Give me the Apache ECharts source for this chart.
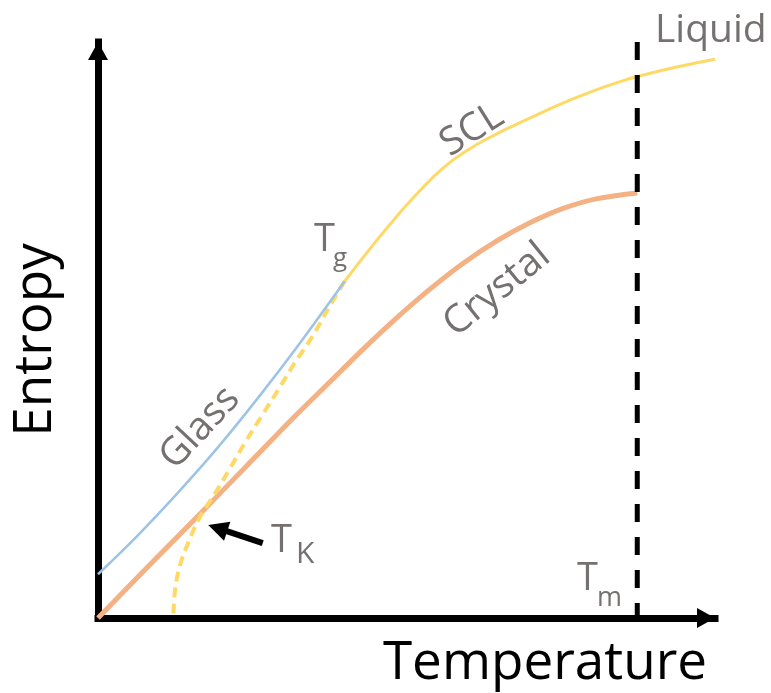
<!DOCTYPE html>
<html>
<head>
<meta charset="utf-8">
<script src="https://cdn.jsdelivr.net/npm/echarts@6/dist/echarts.min.js"></script>
<style>
  html, body { margin: 0; padding: 0; background: #ffffff; }
  #chart { width: 771px; height: 693px; }
</style>
</head>
<body>
<div id="chart"></div>
<script>
// Entropy vs temperature for glass, supercooled liquid (SCL) and crystal.
// Arbitrary units: temperature 0..100, entropy 0..100.

const glassT = [0, 6.5, 13, 19.5, 26, 32.5, 40.0];
const glassS = [7.6, 14.4, 21.8, 29.7, 38.3, 47.4, 58.5];

const sclT = [40, 44, 48, 52, 56, 60, 64, 68, 72, 76, 80, 84, 87.4, 94, 100];
const sclS = [58.5, 64.0, 69.2, 74.0, 78.2, 81.3, 83.7, 85.8, 87.8, 89.7, 91.4, 92.9, 94.0, 95.7, 97.0];

const crystalT = [0, 8, 16, 24, 32, 37.6, 42.9, 48.5, 53.8, 59.2, 64.7, 70.0, 75.4, 80.9, 87.4];
const crystalS = [0, 8.8, 17.5, 26.3, 35.1, 41.0, 46.6, 52.2, 57.1, 61.6, 65.5, 68.6, 71.1, 72.8, 73.8];

// extrapolated SCL entropy below Tg, down towards the Kauzmann point
const extrapT = [40.0, 37.6, 34.7, 31.9, 29.2, 26.6, 23.8, 21.4, 19.0, 16.5, 14.6, 13.3, 12.5, 12.2];
const extrapS = [58.5, 54.2, 48.8, 44.3, 39.6, 35.2, 30.4, 26.0, 21.7, 17.5, 13.0, 9.2, 4.9, 0.2];

const meltT = 87.4;          // Tm
const entropyMax = 100;
const kauzmannArrowFrom = [26.7, 13.0];
const kauzmannArrowTo = [19.4, 15.6];

const zip = (xs, ys) => xs.map((x, i) => [x, ys[i]]);

const GREY = '#767171';
const FONT = '"Open Sans", "Noto Sans", sans-serif';
const deg = d => d * Math.PI / 180;

const chart = echarts.init(document.getElementById('chart'), null, { renderer: 'canvas' });

function txt(text, x, y, size, opts) {
  opts = opts || {};
  return {
    type: 'text',
    x: x, y: y,
    rotation: opts.rotation || 0,
    z: 100,
    silent: true,
    style: {
      text: text,
      font: size + 'px ' + FONT,
      fill: opts.color || GREY,
      align: opts.align || 'left',
      verticalAlign: 'middle'
    }
  };
}

const axisCommon = {
  type: 'value',
  min: 0,
  max: 100,
  splitLine: { show: false },
  axisTick: { show: false },
  axisLabel: { show: false },
  axisLine: {
    show: true,
    symbol: ['none', 'triangle'],
    symbolSize: [20, 18],
    symbolOffset: [0, -9],
    lineStyle: { color: '#000000', width: 7, cap: 'square' }
  }
};

chart.setOption({
  animation: false,
  backgroundColor: '#ffffff',
  grid: { left: 98, top: 42, width: 617, height: 576 },
  xAxis: Object.assign({}, axisCommon),
  yAxis: Object.assign({}, axisCommon),
  series: [
    {
      name: 'Crystal',
      type: 'line',
      data: zip(crystalT, crystalS),
      smooth: 0.4,
      showSymbol: false,
      clip: false,
      lineStyle: { color: '#F4B183', width: 5 },
      z: 2
    },
    {
      name: 'Extrapolated SCL',
      type: 'line',
      data: zip(extrapT, extrapS),
      smooth: 0.4,
      showSymbol: false,
      clip: false,
      lineStyle: { color: '#FFD966', width: 4, type: [10, 6] },
      z: 3
    },
    {
      name: 'Glass',
      type: 'line',
      data: zip(glassT, glassS),
      smooth: 0.4,
      showSymbol: false,
      clip: false,
      lineStyle: { color: '#9DC3E6', width: 2.5 },
      z: 4
    },
    {
      name: 'SCL / Liquid',
      type: 'line',
      data: zip(sclT, sclS),
      smooth: 0.5,
      showSymbol: false,
      clip: false,
      lineStyle: { color: '#FFD966', width: 3 },
      z: 4
    },
    {
      name: 'Tm',
      type: 'line',
      data: [[meltT, entropyMax], [meltT, 0]],
      showSymbol: false,
      clip: false,
      lineStyle: { color: '#000000', width: 5, type: [18, 15] },
      z: 5,
      markLine: {
        silent: true,
        animation: false,
        label: { show: false },
        lineStyle: { color: '#000000', width: 6, type: 'solid' },
        symbolSize: [20, 20],
        data: [[
          { coord: kauzmannArrowFrom, symbol: 'none' },
          { coord: kauzmannArrowTo, symbol: 'triangle' }
        ]]
      }
    }
  ],
  graphic: [
    txt('Liquid', 655, 31, 39),
    txt('SCL', 472, 130, 39, { align: 'center', rotation: deg(32) }),
    txt('Crystal', 497, 290, 39, { align: 'center', rotation: deg(39) }),
    txt('Glass', 200, 428, 39, { align: 'center', rotation: deg(47) }),
    txt('T', 314, 240, 38),
    txt('g', 333, 259, 26),
    txt('T', 271, 541, 38),
    txt('K', 296, 554, 30),
    txt('T', 577, 579, 38),
    txt('m', 597, 598, 27),
    txt('Temperature', 545, 664, 53, { align: 'center', color: '#000000' }),
    txt('Entropy', 36, 340, 53, { align: 'center', color: '#000000', rotation: deg(90) })
  ]
});
</script>
</body>
</html>
